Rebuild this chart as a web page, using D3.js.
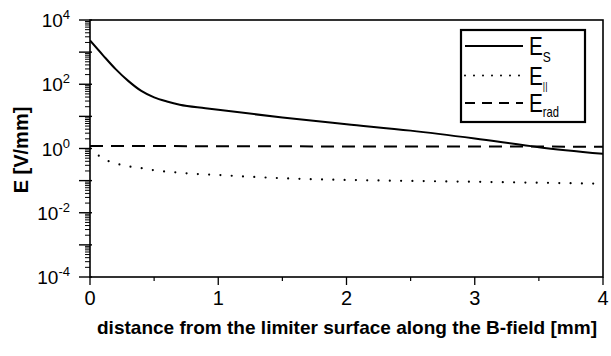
<!DOCTYPE html>
<html>
<head>
<meta charset="utf-8">
<script src="https://cdn.jsdelivr.net/npm/d3@7"></script>
<style>
  html, body { margin: 0; padding: 0; background: #fff; }
  svg { display: block; font-family: "Liberation Sans", Arial, sans-serif; }
</style>
</head>
<body>
<svg id="chart" width="611" height="356"></svg>
<script>
// Distance from the limiter surface along the B-field [mm] and field strength [V/mm]
const distS = [0, 0.1, 0.2, 0.3, 0.4, 0.5, 0.6, 0.7, 0.9, 1.0, 1.5, 2.0, 2.5, 3.0, 3.5, 4.0];
const fieldS = [2300, 810, 295, 125, 62, 39, 29, 23, 18, 16, 9.2, 5.7, 3.6, 2.05, 1.1, 0.68];

const distPar = [0, 0.06, 0.14, 0.23, 0.32, 0.4, 0.5, 0.67, 0.84, 1.0, 1.2, 1.6, 2.0, 2.5, 3.0, 3.5, 4.0];
const fieldPar = [1.0, 0.63, 0.41, 0.32, 0.27, 0.245, 0.21, 0.18, 0.16, 0.15, 0.135, 0.115, 0.105, 0.098, 0.092, 0.086, 0.08];

const distRad = [0, 1, 2, 3, 4];
const fieldRad = [1.2, 1.18, 1.16, 1.15, 1.14];

const xTicks = [0, 1, 2, 3, 4];
const xMinorTicks = [0.5, 1.5, 2.5, 3.5];
const yExponents = [-4, -2, 0, 2, 4];

const svg = d3.select("#chart");
const plotLeft = 90, plotRight = 603, plotTop = 20, plotBottom = 277;

const x = d3.scaleLinear().domain([0, 4]).range([plotLeft, plotRight]);
const y = d3.scaleLog().domain([1e-4, 1e4]).range([plotBottom, plotTop]);

// Frame
svg.append("rect")
  .attr("x", plotLeft).attr("y", plotTop)
  .attr("width", plotRight - plotLeft).attr("height", plotBottom - plotTop)
  .attr("fill", "none").attr("stroke", "#000").attr("stroke-width", 1.6);

// Y axis ticks: every decade long, 2..9 short
const yTickG = svg.append("g");
for (let e = -4; e <= 4; e++) {
  yTickG.append("line")
    .attr("x1", plotLeft - 11).attr("x2", plotLeft + 2)
    .attr("y1", y(Math.pow(10, e))).attr("y2", y(Math.pow(10, e)))
    .attr("stroke", "#000").attr("stroke-width", 1.4);
  if (e < 4) {
    for (let m = 2; m <= 9; m++) {
      const v = m * Math.pow(10, e);
      yTickG.append("line")
        .attr("x1", plotLeft - 5).attr("x2", plotLeft)
        .attr("y1", y(v)).attr("y2", y(v))
        .attr("stroke", "#000").attr("stroke-width", 1);
    }
  }
}

// Y tick labels as 10^n
yExponents.forEach(e => {
  const t = svg.append("text")
    .attr("x", plotLeft - 20)
    .attr("y", y(Math.pow(10, e)) + 7)
    .attr("text-anchor", "end")
    .attr("font-size", 19)
    .attr("fill", "#000");
  t.append("tspan").text("10");
  t.append("tspan").attr("dy", -8).attr("font-size", 13).text(String(e));
});

// X axis ticks
xTicks.forEach(v => {
  svg.append("line")
    .attr("x1", x(v)).attr("x2", x(v))
    .attr("y1", plotBottom).attr("y2", plotBottom + 8)
    .attr("stroke", "#000").attr("stroke-width", 1.3);
  svg.append("text")
    .attr("x", x(v)).attr("y", plotBottom + 28)
    .attr("text-anchor", "middle")
    .attr("font-size", 20)
    .text(v);
});
xMinorTicks.forEach(v => {
  svg.append("line")
    .attr("x1", x(v)).attr("x2", x(v))
    .attr("y1", plotBottom).attr("y2", plotBottom + 4)
    .attr("stroke", "#000").attr("stroke-width", 1.2);
});

// Axis titles
svg.append("text")
  .attr("x", 347).attr("y", 334)
  .attr("text-anchor", "middle")
  .attr("font-size", 19).attr("font-weight", "bold")
  .attr("textLength", 500).attr("lengthAdjust", "spacingAndGlyphs")
  .text("distance from the limiter surface along the B-field [mm]");

svg.append("text")
  .attr("transform", "translate(28,150) rotate(-90)")
  .attr("text-anchor", "middle")
  .attr("font-size", 20).attr("font-weight", "bold")
  .text("E [V/mm]");

// Curves, clipped to the plot area
svg.append("clipPath").attr("id", "plot-clip")
  .append("rect").attr("x", plotLeft).attr("y", plotTop)
  .attr("width", plotRight - plotLeft).attr("height", plotBottom - plotTop);

const line = d3.line()
  .x(d => x(d[0]))
  .y(d => y(d[1]))
  .curve(d3.curveMonotoneX);

const plot = svg.append("g").attr("clip-path", "url(#plot-clip)");

plot.append("path")
  .attr("d", line(d3.zip(distRad, fieldRad)))
  .attr("fill", "none").attr("stroke", "#000")
  .attr("stroke-width", 2).attr("stroke-dasharray", "13,8");

plot.append("path")
  .attr("d", line(d3.zip(distPar, fieldPar)))
  .attr("fill", "none").attr("stroke", "#000")
  .attr("stroke-width", 2.2).attr("stroke-linecap", "round")
  .attr("stroke-dasharray", "0,11.3");

plot.append("path")
  .attr("d", line(d3.zip(distS, fieldS)))
  .attr("fill", "none").attr("stroke", "#000")
  .attr("stroke-width", 2);

// Legend
const lg = svg.append("g");
lg.append("rect")
  .attr("x", 461).attr("y", 30).attr("width", 124).attr("height", 92)
  .attr("fill", "#fff").attr("stroke", "#000").attr("stroke-width", 2.2);

const legendItems = [
  { sub: "S", ly: 46, dash: null, cap: "butt", w: 1.8, subDy: 7, subSize: 15 },
  { sub: "||", ly: 75.5, dash: "0,9", cap: "round", w: 2, subDy: 5, subSize: 11 },
  { sub: "rad", ly: 103, dash: "10,7", cap: "butt", w: 1.8, subDy: 5, subSize: 14 }
];
legendItems.forEach(it => {
  lg.append("line")
    .attr("x1", 465).attr("x2", 523)
    .attr("y1", it.ly).attr("y2", it.ly)
    .attr("stroke", "#000").attr("stroke-width", it.w)
    .attr("stroke-linecap", it.cap)
    .attr("stroke-dasharray", it.dash);
  // condensed label: horizontally squeezed glyphs
  const t = lg.append("text")
    .attr("transform", `translate(529,${it.ly + 9}) scale(0.8,1)`)
    .attr("font-size", 26);
  t.append("tspan").text("E");
  t.append("tspan").attr("dy", it.subDy).attr("font-size", it.subSize).text(it.sub);
});
</script>
</body>
</html>
